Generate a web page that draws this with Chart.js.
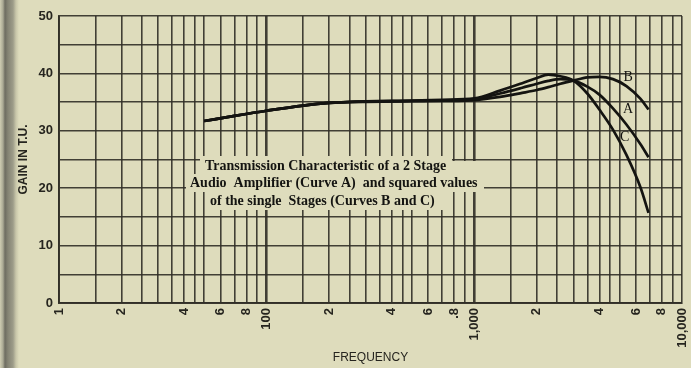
<!DOCTYPE html>
<html>
<head>
<meta charset="utf-8">
<script src="https://cdn.jsdelivr.net/npm/chart.js@4.4.1/dist/chart.umd.min.js"></script>
<style>
  html, body { margin: 0; padding: 0; }
  body {
    width: 691px; height: 368px; overflow: hidden;
    background: linear-gradient(to right, #cfcdb2 0px, #a9a893 3px, #6e6d61 5px, #858474 8px, #9d9c89 13px, #c9c7aa 16px, #dedcbc 19px, #dedcbc 100%);
  }
  canvas { display: block; }
</style>
</head>
<body>
<canvas id="chart" width="691" height="368"></canvas>
<script>
// Frequencies (cycles) at which the gain was read, shared by the three curves
const frequencies = [50, 70, 100, 150, 200, 300, 500, 700, 1000, 1330, 1700, 2000, 2270, 2600, 3000, 3500, 4000, 4650, 5400, 6300, 6900];

// Curve A: two-stage amplifier
const gainA = [31.7, 32.6, 33.5, 34.4, 34.85, 35.1, 35.2, 35.3, 35.5, 36.5, 37.5, 38.2, 38.7, 39.0, 38.75, 37.7, 36.3, 33.9, 31.1, 27.7, 25.4];
// Curve B: squared single stage
const gainB = [31.7, 32.6, 33.5, 34.4, 34.85, 35.05, 35.15, 35.2, 35.35, 35.9, 36.6, 37.1, 37.6, 38.2, 38.75, 39.3, 39.4, 39.0, 37.8, 35.6, 33.7];
// Curve C: squared single stage
const gainC = [31.7, 32.6, 33.5, 34.4, 34.85, 35.15, 35.25, 35.4, 35.65, 37.0, 38.3, 39.2, 39.8, 39.5, 38.75, 36.5, 33.7, 30.2, 25.8, 20.2, 15.7];

// Vertical ruling of the log paper
const xGridValues = [10, 15, 20, 25, 30, 35, 40, 45, 50, 60, 70, 80, 90,
                     100, 150, 200, 250, 300, 350, 400, 450, 500, 600, 700, 800, 900,
                     1000, 1500, 2000, 2500, 3000, 3500, 4000, 4500, 5000, 6000, 7000, 8000, 9000,
                     10000];
// Printed frequency labels
const xLabelValues = [10, 20, 40, 60, 80, 100, 200, 400, 600, 800, 1000, 2000, 4000, 6000, 8000, 10000];
const xLabelTexts  = ['1', '2', '4', '6', '8', '100', '2', '4', '6', '.8', '1,000', '2', '4', '6', '8', '10,000'];

// Gain axis
const yLabelValues = [0, 10, 20, 30, 40, 50];

const curveNames = ['A', 'B', 'C'];
// Where each curve letter is printed (frequency, gain)
const letterFreq = [5500, 5500, 5300];
const letterGain = [33.8, 39.4, 28.9];

const titleLines = [
  'Transmission Characteristic of a 2 Stage',
  'Audio  Amplifier (Curve A)  and squared values',
  'of the single  Stages (Curves B and C)'
];

const PAPER = '#dedcbc';
const RULE = 'rgba(48, 46, 38, 0.9)';
const INK = '#141411';

function series(gains) {
  return frequencies.map((f, i) => ({ x: f, y: gains[i] }));
}

// Blank patch behind the caption, then the caption and curve letters
const captionPlugin = {
  id: 'caption',
  afterDatasetsDraw(chart) {
    const ctx = chart.ctx;
    const a = chart.chartArea;
    ctx.save();
    ctx.fillStyle = PAPER;
    // irregular blank area where the ruling is interrupted
    const patches = [
      [a.left + 141, a.top + 140, 252, 18],
      [a.left + 393, a.top + 145, 28, 13],
      [a.left + 127, a.top + 158, 298, 18],
      [a.left + 148, a.top + 176, 240, 18]
    ];
    patches.forEach(p => ctx.fillRect(p[0], p[1], p[2], p[3]));

    ctx.fillStyle = INK;
    ctx.textBaseline = 'middle';
    ctx.textAlign = 'left';
    const lineStarts = [a.left + 146, a.left + 131, a.left + 151];
    const lineWidths = [247, 290, 233];
    const lineYs = [a.top + 150, a.top + 167, a.top + 185];
    titleLines.forEach((t, i) => {
      ctx.font = 'bold 12px "Liberation Serif"';
      const w = ctx.measureText(t).width;
      const size = Math.max(9, Math.min(14, 12 * lineWidths[i] / w));
      ctx.font = 'bold ' + size.toFixed(2) + 'px "Liberation Serif"';
      ctx.fillText(t, lineStarts[i], lineYs[i]);
    });

    const xs = chart.scales.x, ys = chart.scales.y;
    ctx.font = '14px "Liberation Serif"';
    ctx.textAlign = 'center';
    curveNames.forEach((n, i) => {
      ctx.fillText(n, xs.getPixelForValue(letterFreq[i]), ys.getPixelForValue(letterGain[i]));
    });
    ctx.restore();
  }
};

const lineStyle = {
  borderColor: INK,
  borderWidth: 2.7,
  pointRadius: 0,
  fill: false,
  cubicInterpolationMode: 'monotone'
};

new Chart(document.getElementById('chart'), {
  type: 'line',
  data: {
    datasets: [
      Object.assign({ label: 'A', data: series(gainA) }, lineStyle),
      Object.assign({ label: 'B', data: series(gainB) }, lineStyle),
      Object.assign({ label: 'C', data: series(gainC) }, lineStyle)
    ]
  },
  plugins: [captionPlugin],
  options: {
    responsive: false,
    animation: false,
    events: [],
    layout: { padding: { top: 16, right: 9, left: 0, bottom: 0 } },
    plugins: { legend: { display: false }, tooltip: { enabled: false } },
    scales: {
      x: {
        type: 'logarithmic',
        min: 10,
        max: 10000,
        afterBuildTicks(scale) {
          scale.ticks = xGridValues.map(v => ({ value: v }));
        },
        afterFit(scale) {
          scale.height = 65;
          scale.paddingLeft = 0;
          scale.paddingRight = 0;
        },
        grid: {
          color: RULE,
          lineWidth: c => (c.tick && (c.tick.value === 100 || c.tick.value === 1000)) ? 2.6 : 1.6,
          drawTicks: false
        },
        border: { display: true, color: RULE, width: 2 },
        ticks: {
          autoSkip: false,
          minRotation: 90,
          maxRotation: 90,
          padding: 5,
          color: '#26251f',
          font: { family: '"Liberation Sans", Arial, sans-serif', size: 13, weight: 'bold' },
          callback(value) {
            const k = xLabelValues.indexOf(value);
            return k >= 0 ? xLabelTexts[k] : '';
          }
        },
        title: {
          display: true,
          text: 'FREQUENCY',
          color: '#26251f',
          padding: { top: 0, bottom: 3 },
          font: { family: '"Liberation Sans", Arial, sans-serif', size: 12 }
        }
      },
      y: {
        min: 0,
        max: 50,
        afterFit(scale) { scale.width = 59; },
        ticks: {
          stepSize: 5,
          padding: 6,
          color: '#26251f',
          font: { family: '"Liberation Sans", Arial, sans-serif', size: 13, weight: 'bold' },
          callback(value) {
            return yLabelValues.indexOf(value) >= 0 ? String(value) : '';
          }
        },
        grid: {
          color: RULE,
          lineWidth: 1.6,
          drawTicks: false
        },
        border: { display: true, color: RULE, width: 2 },
        title: {
          display: true,
          text: 'GAIN IN T.U.',
          color: '#26251f',
          padding: { top: 16, bottom: 0 },
          font: { family: '"Liberation Sans", Arial, sans-serif', size: 12, weight: 'bold' }
        }
      }
    }
  }
});
</script>
</body>
</html>
